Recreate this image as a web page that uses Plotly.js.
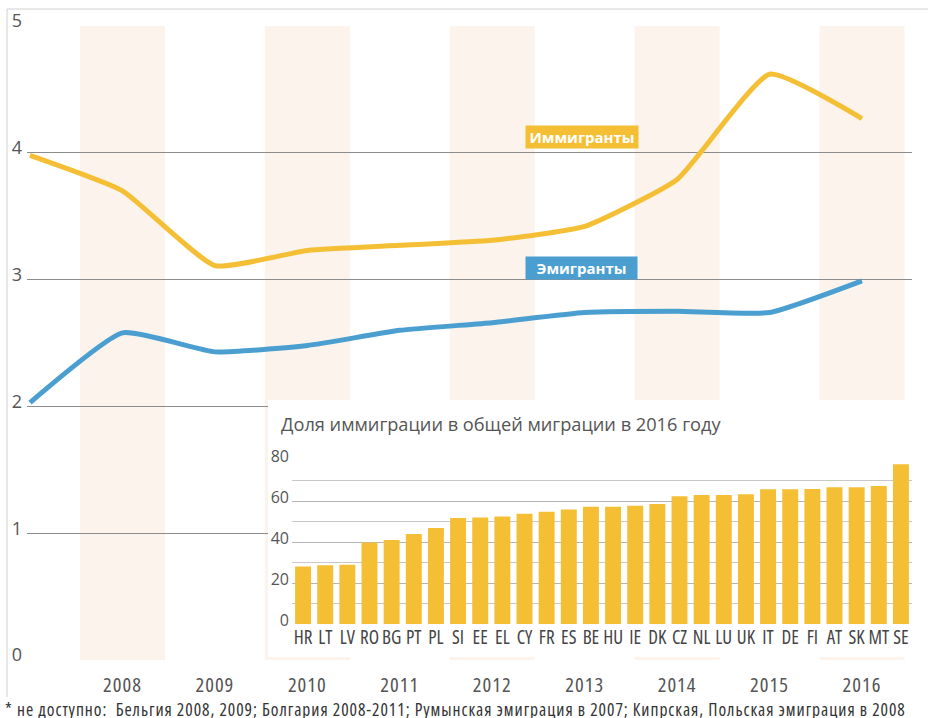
<!DOCTYPE html>
<html>
<head>
<meta charset="utf-8">
<script src="https://cdn.plot.ly/plotly-3.0.1.min.js"></script>
<style>
html,body{margin:0;padding:0;background:#fff;}
#chart{width:928px;height:718px;}
/* condensed cut of Open Sans for year labels, country labels and footnote */
#chart g.xtick text { font-stretch: condensed !important; letter-spacing: 1px; }
#chart g.x3tick text { font-stretch: condensed !important; }
#chart g.annotation[data-index="3"] text { font-stretch: condensed !important; letter-spacing: 0.95px; }
</style>
</head>
<body>
<div id="chart"></div>
<script>
// ---- data ----
const years = [2007, 2008, 2009, 2010, 2011, 2012, 2013, 2014, 2015, 2016];
const immigrants = [3.98, 3.70, 3.11, 3.23, 3.27, 3.31, 3.42, 3.79, 4.62, 4.27];
const emigrants = [2.03, 2.58, 2.43, 2.48, 2.60, 2.66, 2.74, 2.75, 2.74, 2.99];
const yearTicks = [2008, 2009, 2010, 2011, 2012, 2013, 2014, 2015, 2016];
const shadedYears = [2008, 2010, 2012, 2014, 2016];
const mainYTicks = [0, 1, 2, 3, 4, 5];

const countries = ["HR","LT","LV","RO","BG","PT","PL","SI","EE","EL","CY","FR","ES","BE",
                   "HU","IE","DK","CZ","NL","LU","UK","IT","DE","FI","AT","SK","MT","SE"];
const immigShare = [28.0, 28.6, 28.9, 39.8, 41.0, 43.9, 46.8, 51.7, 51.9, 52.4, 53.8, 54.8, 55.8, 57.2,
                    57.2, 57.7, 58.5, 62.3, 62.9, 62.9, 63.3, 65.7, 65.7, 65.9, 66.7, 66.7, 67.3, 77.9];

const insetTitle = "Доля иммиграции в общей миграции в 2016 году";
const labelImm = "Иммигранты";
const labelEmi = "Эмигранты";
const footnote = "* не доступно:  Бельгия 2008, 2009; Болгария 2008-2011; Румынская эмиграция в 2007; Кипрская, Польская эмиграция в 2008";

// ---- styles ----
const YELLOW = "#F5BF35";
const BLUE = "#4A9FD0";
const BAND = "#FBF3EC";
const BASE = "'Open Sans', sans-serif";
const W = 928, H = 718;
const px = v => v / W;
const py = v => (H - v) / H;

const traces = [
  { x: years, y: immigrants, type: "scatter", mode: "lines",
    line: { color: YELLOW, width: 5, shape: "spline", smoothing: 0.45 },
    xaxis: "x", yaxis: "y", hoverinfo: "skip" },
  { x: years, y: emigrants, type: "scatter", mode: "lines",
    line: { color: BLUE, width: 5, shape: "spline", smoothing: 0.45 },
    xaxis: "x", yaxis: "y", hoverinfo: "skip" },
  // invisible placeholder so the white inset panel subplot exists
  { x: [0], y: [0], type: "scatter", mode: "markers", marker: { opacity: 0 },
    xaxis: "x2", yaxis: "y2", hoverinfo: "skip" },
  { x: countries, y: immigShare, type: "bar", marker: { color: YELLOW },
    xaxis: "x3", yaxis: "y3", hoverinfo: "skip" }
];

const shapes = shadedYears.map(yr => ({
  type: "rect", xref: "x", yref: "y", x0: yr - 0.46, x1: yr + 0.46, y0: 0, y1: 5,
  fillcolor: BAND, line: { width: 0 }, layer: "below"
}));
shapes.push({ type: "line", xref: "paper", yref: "paper", x0: px(7), x1: 1, y0: py(9), y1: py(9),
  line: { color: "#d0d0d0", width: 1 } });
shapes.push({ type: "line", xref: "paper", yref: "paper", x0: px(7), x1: px(7), y0: py(9), y1: py(697),
  line: { color: "#d0d0d0", width: 1 } });

const layout = {
  width: W, height: H,
  margin: { l: 0, r: 0, t: 0, b: 0 },
  paper_bgcolor: "#ffffff", plot_bgcolor: "#ffffff",
  showlegend: false,
  font: { family: BASE, color: "#555" },
  xaxis: {
    domain: [px(27), px(912)], range: [2006.9675, 2016.541],
    tickvals: yearTicks, ticktext: yearTicks.map(String),
    showgrid: false, zeroline: false, showline: false, ticks: "",
    tickfont: { family: BASE, size: 20.5, color: "#555" },
    ticklabelstandoff: 10, fixedrange: true
  },
  yaxis: {
    domain: [py(660), py(26)], range: [0, 5],
    tickvals: mainYTicks, showgrid: true, gridcolor: "#8c8c8c", gridwidth: 1,
    zeroline: false, showline: false, ticks: "",
    tickfont: { family: BASE, size: 18, color: "#555" },
    ticklabelstandoff: 4, ticklabelshift: -5, fixedrange: true
  },
  xaxis2: {
    domain: [px(268), px(920)], range: [0, 1], anchor: "y2",
    visible: false, showgrid: false, zeroline: false, fixedrange: true
  },
  yaxis2: {
    domain: [py(657), py(400)], range: [0, 1], anchor: "x2",
    visible: false, showgrid: false, zeroline: false, fixedrange: true
  },
  xaxis3: {
    domain: [px(292), px(912)], anchor: "y3", type: "category",
    range: [-0.5, countries.length - 0.5], dtick: 1,
    showgrid: false, zeroline: false, showline: false, ticks: "",
    tickfont: { family: BASE, size: 19, color: "#444" },
    ticklabelstandoff: 0, tickangle: 0, fixedrange: true
  },
  yaxis3: {
    domain: [py(624), py(460)], range: [0, 80], anchor: "x3",
    dtick: 20, showgrid: true, gridcolor: "#b5b5b5", gridwidth: 1,
    minor: { dtick: 10, showgrid: true, gridcolor: "#c8c8c8", gridwidth: 1 },
    zeroline: false, showline: false, ticks: "",
    tickfont: { family: BASE, size: 16, color: "#555" },
    ticklabelstandoff: 2, ticklabelshift: -4, fixedrange: true
  },
  bargap: 0.28,
  shapes: shapes,
  annotations: [
    { text: insetTitle, xref: "paper", yref: "paper", x: px(279), y: py(424),
      xanchor: "left", yanchor: "middle", showarrow: false, align: "left",
      font: { family: BASE, size: 18.2, color: "#555" } },
    { text: "<b>" + labelImm + "</b>", xref: "paper", yref: "paper", x: px(582), y: py(137),
      xanchor: "center", yanchor: "middle", showarrow: false,
      bgcolor: YELLOW, borderpad: 2, width: 108, height: 18,
      font: { family: BASE, size: 15, color: "#ffffff" } },
    { text: "<b>" + labelEmi + "</b>", xref: "paper", yref: "paper", x: px(581.5), y: py(268),
      xanchor: "center", yanchor: "middle", showarrow: false,
      bgcolor: BLUE, borderpad: 2, width: 107, height: 18,
      font: { family: BASE, size: 15, color: "#ffffff" } },
    { text: footnote, xref: "paper", yref: "paper", x: px(3), y: py(709),
      xanchor: "left", yanchor: "middle", showarrow: false, align: "left",
      font: { family: BASE, size: 17.5, color: "#333" } }
  ]
};

Plotly.newPlot("chart", traces, layout, { staticPlot: true, displayModeBar: false });
</script>
</body>
</html>
